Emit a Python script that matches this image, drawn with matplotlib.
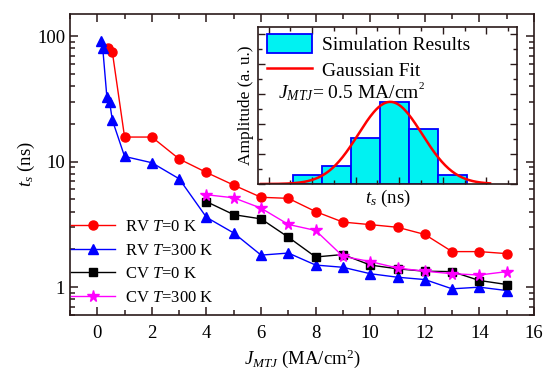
import matplotlib
matplotlib.use("Agg")
import matplotlib.pyplot as plt
import matplotlib.ticker as mticker
from matplotlib.patches import Patch
from matplotlib.lines import Line2D
import numpy as np

plt.rcParams['font.family'] = ['Liberation Serif', 'DejaVu Serif']
plt.rcParams['mathtext.fontset'] = 'custom'
plt.rcParams['mathtext.rm'] = 'Liberation Serif'
plt.rcParams['mathtext.it'] = 'Liberation Serif:italic'
plt.rcParams['mathtext.bf'] = 'Liberation Serif:bold'

# main curves: switching time vs current density
rv0_x = [0.4, 0.55, 1, 2, 3, 4, 5, 6, 7, 8, 9, 10, 11, 12, 13, 14, 15]
rv0_y = [80, 75, 15.7, 15.7, 10.5, 8.2, 6.5, 5.2, 5.1, 4.0, 3.3, 3.15, 3.0, 2.63, 1.92, 1.92, 1.85]

rv300_x = [0.15, 0.2, 0.35, 0.45, 0.55, 1, 2, 3, 4, 5, 6, 7, 8, 9, 10, 11, 12, 13, 14, 15]
rv300_y = [92, 80, 33, 30, 21.5, 11, 9.8, 7.3, 3.6, 2.7, 1.8, 1.87, 1.5, 1.44, 1.28, 1.2, 1.15, 0.97, 1.0, 0.94]

cv_x = [4, 5, 6, 7, 8, 9, 10, 11, 12, 13, 14, 15]
cv0_y = [4.8, 3.78, 3.5, 2.5, 1.74, 1.82, 1.5, 1.4, 1.34, 1.33, 1.13, 1.05]
cv300_y = [5.45, 5.15, 4.26, 3.16, 2.83, 1.76, 1.6, 1.42, 1.34, 1.28, 1.25, 1.33]

labels = ['RV $T$=0 K', 'RV $T$=300 K', 'CV $T$=0 K', 'CV $T$=300 K']
ytick_vals = [1, 10, 100]
ytick_labels = ['1', '10', '100']

# inset histogram (counts per bin) and gaussian fit parameters
hist_edges = [1, 2, 3, 4, 5, 6, 7]
hist_counts = [1, 2, 5, 9, 6, 1]
fit_center = 4.36
fit_sigma = 1.1
fit_amp = 9.0

spine_col = '#2a1a1a'

fig = plt.figure(figsize=(5.52, 3.69), dpi=100)
ax = fig.add_axes([0.1268, 0.1463, 0.8406, 0.8157])

ax.plot(rv0_x, rv0_y, '-o', color='red', lw=1.0, ms=6.5, label=labels[0])
ax.plot(rv300_x, rv300_y, '-^', color='blue', lw=1.0, ms=7, label=labels[1])
ax.plot(cv_x, cv0_y, '-s', color='black', lw=1.0, ms=5.5, label=labels[2])
ax.plot(cv_x, cv300_y, '-*', color='magenta', lw=1.0, ms=8.5, label=labels[3])

ax.set_yscale('log')
ax.set_xlim(-1, 16)
ax.set_ylim(0.6, 150)
ax.xaxis.set_major_locator(mticker.MultipleLocator(2))
ax.xaxis.set_minor_locator(mticker.MultipleLocator(1))
ax.set_yticks(ytick_vals, labels=ytick_labels)
ax.yaxis.set_minor_formatter(mticker.NullFormatter())
ax.tick_params(which='both', direction='in', top=True, right=True, colors=spine_col,
               labelcolor='black', labelsize=13.5, width=1.1)
ax.tick_params(which='major', length=6)
ax.tick_params(which='minor', length=3.5)
ax.tick_params(axis='x', which='major', pad=7)
for s in ax.spines.values():
    s.set_color(spine_col)
    s.set_linewidth(1.2)

ax.set_xlabel(r'$J_{MTJ}$ (MA/cm$^2$)', fontsize=13.5, labelpad=4)
ax.set_ylabel(r'$t_s$ (ns)', fontsize=13.5, labelpad=0)

ax.legend(loc='upper left', bbox_to_anchor=(0.003, 0.318), frameon=False, fontsize=12,
          handlelength=2.6, handletextpad=0.6, labelspacing=0.45, borderpad=0,
          borderaxespad=0)

# inset
ins = fig.add_axes([0.4674, 0.5014, 0.4692, 0.4254])
ins.hist(hist_edges[:-1], bins=hist_edges, weights=hist_counts, facecolor='#00f2f2',
         edgecolor='blue', linewidth=1.3)
gx = np.linspace(-0.1, 7.8, 200)
ins.plot(gx, fit_amp * np.exp(-0.5 * ((gx - fit_center) / fit_sigma) ** 2), color='red', lw=1.8)
ins.set_xlim(-0.2, 8.73)
ins.set_ylim(0, 17.2)
ins.xaxis.set_major_locator(mticker.MultipleLocator(1.5, offset=0.17))
ins.xaxis.set_minor_locator(mticker.MultipleLocator(0.75, offset=0.17))
ins.yaxis.set_major_locator(mticker.MultipleLocator(3.28, offset=0))
ins.yaxis.set_minor_locator(mticker.MultipleLocator(1.64))
ins.tick_params(which='both', direction='in', top=True, right=True, labelbottom=False,
                labelleft=False, colors=spine_col, width=1.0)
ins.tick_params(which='major', length=5)
ins.tick_params(which='minor', length=3)
for s in ins.spines.values():
    s.set_color(spine_col)
    s.set_linewidth(1.2)
ins.set_xlabel(r'$t_s$ (ns)', fontsize=13.5, labelpad=3)
ins.set_ylabel('Amplitude (a. u.)', fontsize=12.5, labelpad=3)

handles = [Patch(facecolor='#00f2f2', edgecolor='blue', linewidth=1.3),
           Line2D([], [], color='red', lw=1.8)]
ins.legend(handles, ['Simulation Results', 'Gaussian Fit'], loc='upper left',
           bbox_to_anchor=(0.035, 0.955), frameon=False, fontsize=14, handlelength=2.3,
           handleheight=1.15, handletextpad=0.5, labelspacing=0.3, borderpad=0,
           borderaxespad=0)
jt = ins.text(0.077, 0.545, r'$J_{MTJ}$= 0.5 MA/cm', transform=ins.transAxes,
              fontsize=14, va='baseline', ha='left')
ins.annotate('2', xy=(1.0, 0.62), xycoords=jt, xytext=(-1.0, 0), textcoords='offset points',
             fontsize=8, va='bottom', ha='left')

fig.savefig('out.png', dpi=100)
